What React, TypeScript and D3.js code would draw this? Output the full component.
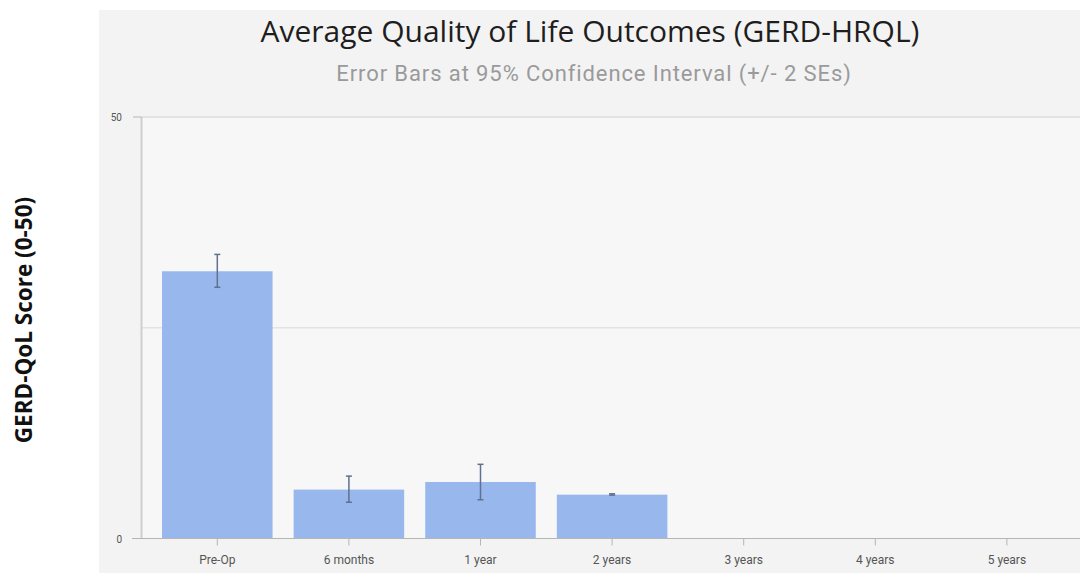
import React from "react";
import * as d3 from "d3";

const categories = ["Pre-Op", "6 months", "1 year", "2 years", "3 years", "4 years", "5 years"];
const means: (number | null)[] = [31.7, 5.8, 6.7, 5.2, null, null, null];
const errLow: (number | null)[] = [29.8, 4.3, 4.6, 5.15, null, null, null];
const errHigh: (number | null)[] = [33.7, 7.4, 8.8, 5.3, null, null, null];
const yTickLabels = [0, 50];
const gridValues = [25, 50];

const title = "Average Quality of Life Outcomes (GERD-HRQL)";
const subtitle = "Error Bars at 95% Confidence Interval (+/- 2 SEs)";
const yLabel = "GERD-QoL Score (0-50)";

export default function App() {
  const W = 1080, H = 573;
  const x = d3.scaleBand<string>().domain(categories).range([151.5, 1072.7]).paddingInner(0.16).paddingOuter(0.08);
  const y = d3.scaleLinear().domain([0, 50]).range([538.5, 117]);
  const axisX = 141.5;
  return (
    <svg width={W} height={H} style={{ position: "absolute", left: 0, top: 0, display: "block" }}>
      <rect x={0} y={0} width={W} height={H} fill="#ffffff" />
      <rect x={99} y={10} width={W - 99} height={H - 10} fill="#f3f3f3" />
      <rect x={axisX} y={y(50)} width={W - axisX} height={y(0) - y(50)} fill="#f7f7f7" />
      <text x={590} y={42} textAnchor="middle" fontFamily="'Open Sans', sans-serif" fontWeight={500} fontSize={30} fill="#1e1e1e">{title}</text>
      <text x={594} y={81} textAnchor="middle" fontFamily="Roboto, sans-serif" fontSize={22} letterSpacing={0.9} fill="#9a9a9a">{subtitle}</text>
      {gridValues.map((v) => (
        <line key={v} x1={axisX} x2={W} y1={y(v)} y2={y(v)} stroke="#e3e3e3" strokeWidth={v === 50 ? 2 : 1.5} />
      ))}
      {categories.map((c, i) => {
        const m = means[i];
        if (m == null) return null;
        const bx = x(c)!;
        const cx = bx + x.bandwidth() / 2;
        const lo = errLow[i]!, hi = errHigh[i]!;
        return (
          <g key={c}>
            <rect x={bx} y={y(m)} width={x.bandwidth()} height={y(0) - y(m)} fill="#98b7ed" />
            <line x1={cx} x2={cx} y1={y(hi)} y2={y(lo)} stroke="#5f7090" strokeWidth={1.5} />
            <line x1={cx - 3} x2={cx + 3} y1={y(hi)} y2={y(hi)} stroke="#5f7090" strokeWidth={1.5} />
            <line x1={cx - 3} x2={cx + 3} y1={y(lo)} y2={y(lo)} stroke="#5f7090" strokeWidth={1.5} />
          </g>
        );
      })}
      <line x1={axisX} x2={axisX} y1={y(50)} y2={y(0)} stroke="#cfcfcf" strokeWidth={2} />
      <line x1={132} x2={W} y1={y(0)} y2={y(0)} stroke="#b5b5b5" strokeWidth={1} />
      {yTickLabels.map((v) => (
        <g key={v}>
          <line x1={133} x2={axisX} y1={y(v)} y2={y(v)} stroke="#b5b5b5" strokeWidth={1} />
          <text x={122} y={y(v) + 4} textAnchor="end" fontFamily="Roboto, sans-serif" fontSize={10} fill="#555">{v}</text>
        </g>
      ))}
      {categories.map((c) => {
        const cx = x(c)! + x.bandwidth() / 2;
        return (
          <g key={c}>
            <line x1={cx} x2={cx} y1={y(0)} y2={y(0) + 7} stroke="#b5b5b5" strokeWidth={1} />
            <text x={cx} y={564} textAnchor="middle" fontFamily="Roboto, sans-serif" fontSize={12} fill="#555">{c}</text>
          </g>
        );
      })}
      <text transform={`translate(32,320) rotate(-90)`} textAnchor="middle" fontFamily="'Open Sans', sans-serif" fontWeight="bold" fontSize={22.5} fill="#111">{yLabel}</text>
    </svg>
  );
}
